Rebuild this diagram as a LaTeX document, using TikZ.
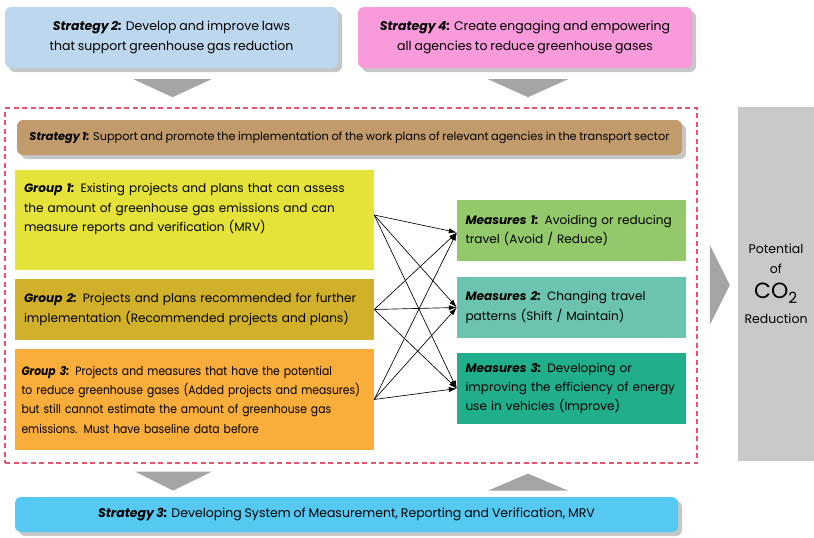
\documentclass[tikz,border=0pt]{standalone}
\usepackage{fontspec}
\setmainfont{Poppins}[WordSpace=0.85]
\usetikzlibrary{positioning,arrows.meta,calc,shadows}
\definecolor{StratBlue}{HTML}{BDD7EE}
\definecolor{StratPink}{HTML}{F99ADB}
\definecolor{StratBrown}{HTML}{C29B6D}
\definecolor{StratCyan}{HTML}{56C9F2}
\definecolor{GroupYel}{HTML}{E5E33A}
\definecolor{GroupGold}{HTML}{D2B12A}
\definecolor{GroupOra}{HTML}{F9AD3B}
\definecolor{MeasGreen}{HTML}{93C86B}
\definecolor{MeasTeal}{HTML}{6CC4B0}
\definecolor{MeasSea}{HTML}{21AE8B}
\definecolor{PotGray}{HTML}{C9C9C9}
\definecolor{TriGray}{HTML}{A5A5A5}
\definecolor{FrameRed}{HTML}{E5566E}
\newcommand{\Txt}{\fontsize{12.5}{19.5}\selectfont}
\newcommand{\BoxTxt}{\fontsize{12.1}{19.3}\selectfont}
\newcommand{\Lbl}[1]{\textbf{\textit{#1}}}
\tikzset{
  stratbox/.style={rounded corners=6pt, align=center, inner sep=0pt, font=\Txt,
                   drop shadow={shadow xshift=4pt, shadow yshift=-4pt, fill=black!22, opacity=1}},
  groupbox/.style={align=left, inner ysep=0pt, inner xsep=9pt, text width=341pt,
                   minimum width=359pt, font=\BoxTxt},
  measbox/.style={align=left, inner ysep=0pt, inner xsep=8.5pt, text width=212pt,
                  minimum width=229pt, font=\BoxTxt},
  link/.style={-{Latex[length=2.8mm,width=1.8mm]}, line width=0.65pt, black},
  tri/.style={fill=TriGray},
}
\begin{document}
\begin{tikzpicture}[x=1pt, y=-1pt]
  \useasboundingbox (0,0) rectangle (814,538);
  % top strategies
  \node[stratbox, fill=StratBlue, minimum width=333pt, minimum height=61pt] (s2) at (171.5,37.5)
    {\Lbl{Strategy 2:} Develop and improve laws\\that support greenhouse gas reduction};
  \node[stratbox, fill=StratPink, minimum width=334pt, minimum height=61pt] (s4) at (525,37.5)
    {\Lbl{Strategy 4:} Create engaging and empowering\\all agencies to reduce greenhouse gases};
  \fill[tri] ($(s2.south)+(-38,11)$) -- ($(s2.south)+(40,11)$) -- ($(s2.south)+(1,29)$) -- cycle;
  \fill[tri] ($(s4.south)+(-37,11)$) -- ($(s4.south)+(43,11)$) -- ($(s4.south)+(3,29)$) -- cycle;

  % dashed frame
  \node[draw=FrameRed, dash pattern=on 5pt off 3.5pt, line width=1.2pt,
        minimum width=692pt, minimum height=355pt] (frame) at (351,285.5) {};
  \node[stratbox, fill=StratBrown, minimum width=665pt, minimum height=35pt,
        font=\fontsize{11.3}{14}\selectfont] (s1) at (349.5,137.5)
    {\Lbl{Strategy 1:} Support and promote the implementation of the work plans of relevant agencies in the transport sector};

  % groups
  \node[groupbox, fill=GroupYel, minimum height=100pt] (g1) at (194.5,220)
    {\Lbl{Group 1:} Existing projects and plans that can assess\\the amount of greenhouse gas emissions and can\\measure reports and verification (MRV)\\\strut};
  \node[groupbox, fill=GroupGold, minimum height=61pt] (g2) at (194.5,309.5)
    {\Lbl{Group 2:} Projects and plans recommended for further\\implementation (Recommended projects and plans)};
  \node[groupbox, fill=GroupOra, minimum height=101pt, text width=346pt, inner xsep=6.5pt,
        font=\BoxTxt\addfontfeatures{FakeStretch=0.89}] (g3) at (194.5,399.5)
    {\Lbl{Group 3:} Projects and measures that have the potential\\to reduce greenhouse gases (Added projects and measures)\\but still cannot estimate the amount of greenhouse gas\\emissions. Must have baseline data before};

  % measures
  \node[measbox, fill=MeasGreen, minimum height=61pt] (m1) at (571.5,230.5)
    {\Lbl{Measures 1:} Avoiding or reducing\\travel (Avoid / Reduce)};
  \node[measbox, fill=MeasTeal, minimum height=61pt] (m2) at (571.5,307.5)
    {\Lbl{Measures 2:} Changing travel\\patterns (Shift / Maintain)};
  \node[measbox, fill=MeasSea, minimum height=71pt] (m3) at (571.5,388.5)
    {\Lbl{Measures 3:} Developing or\\improving the efficiency of energy\\use in vehicles (Improve)};

  \coordinate (o1) at ([yshift=5pt]g1.east);
  \coordinate (o2) at (g2.east);
  \coordinate (o3) at (g3.east);
  \coordinate (t1) at ([yshift=-2pt]m1.west);
  \coordinate (t2) at (m2.west);
  \coordinate (t3) at (m3.west);
  \foreach \i in {1,2,3}
    \foreach \j in {1,2,3}
      \draw[link] (o\i) -- (t\j);

  % potential
  \node[fill=PotGray, minimum width=76pt, minimum height=354pt, align=center, font=\Txt] (pot) at (776,284)
    {Potential\\of\\[6pt]{\fontsize{22}{22}\selectfont CO\textsubscript{2}}\\[5pt]Reduction};
  \fill[tri] ($(pot.west)+(-28,-39)$) -- ($(pot.west)+(-8,1)$) -- ($(pot.west)+(-28,41)$) -- cycle;

  % bottom strategy
  \node[stratbox, fill=StratCyan, minimum width=663pt, minimum height=35pt] (s3) at (346.5,514.5)
    {\Lbl{Strategy 3:} Developing System of Measurement, Reporting and Verification, MRV};
  \fill[tri] ($(frame.south)+(-216,8)$) -- ($(frame.south)+(-139,8)$) -- ($(frame.south)+(-178,27)$) -- cycle;
  \fill[tri] ($(frame.south)+(137,27)$) -- ($(frame.south)+(217,27)$) -- ($(frame.south)+(177,10)$) -- cycle;
\end{tikzpicture}
\end{document}
